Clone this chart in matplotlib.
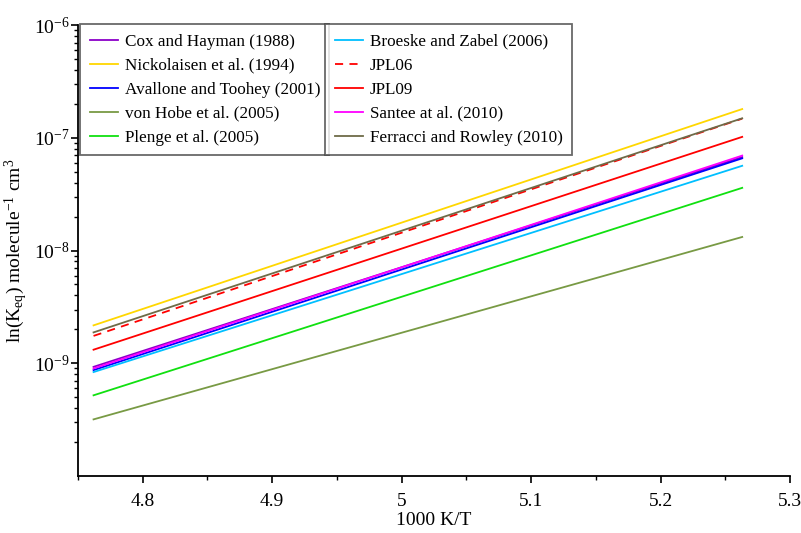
import numpy as np
import matplotlib
matplotlib.use("Agg")
import matplotlib.pyplot as plt
from matplotlib.ticker import FixedLocator, LogLocator, NullFormatter

plt.rcParams['font.family'] = ['Liberation Serif', 'DejaVu Serif']
plt.rcParams['mathtext.fontset'] = 'custom'
plt.rcParams['mathtext.rm'] = 'Liberation Serif'
plt.rcParams['mathtext.it'] = 'Liberation Serif:italic'

# 1000/T at 210 K and 190 K
x_ends = [4.762, 5.263]

# Keq at the two ends
cox_hayman = [9.3e-10, 6.75e-8]
nickolaisen = [2.17e-9, 1.80e-7]
avallone = [8.7e-10, 6.58e-8]
von_hobe = [3.18e-10, 1.32e-8]
plenge = [5.2e-10, 3.6e-8]
broeske = [8.36e-10, 5.65e-8]
jpl06 = [1.75e-9, 1.48e-7]
jpl09 = [1.32e-9, 1.02e-7]
santee = [9.0e-10, 6.96e-8]
ferracci = [1.88e-9, 1.49e-7]

labels_left = ["Cox and Hayman (1988)", "Nickolaisen et al. (1994)",
               "Avallone and Toohey (2001)", "von Hobe et al. (2005)",
               "Plenge et al. (2005)"]
labels_right = ["Broeske and Zabel (2006)", "JPL06", "JPL09",
                "Santee at al. (2010)", "Ferracci and Rowley (2010)"]

series = [cox_hayman, nickolaisen, avallone, von_hobe, plenge,
          broeske, jpl06, jpl09, santee, ferracci]
colors = ['#8B00C8', '#FFD700', '#0000FF', '#789A44', '#10E010',
          '#00BFFF', '#FF0000', '#FF0000', '#FF00FF', '#6E6B48']
styles = ['-', '-', '-', '-', '-', '-', '--', '-', '-', '-']

fig = plt.figure(figsize=(8.01, 5.33), dpi=100)
ax = fig.add_axes([0.0974, 0.1069, 0.889, 0.846])

handles = []
for y, c, ls in zip(series, colors, styles):
    ln, = ax.plot(x_ends, y, color=c, linestyle=ls, linewidth=1.3)
    if ls == '--':
        ln.set_dashes((4.5, 3.5))
    handles.append(ln)

ax.set_yscale('log')
ax.set_xlim(4.75, 5.3)
ax.set_ylim(1e-10, 1e-6)

ax.yaxis.set_major_locator(FixedLocator([1e-9, 1e-8, 1e-7, 1e-6]))
ax.set_yticklabels([r'10$^{\mathrm{-9}}$', r'10$^{\mathrm{-8}}$',
                    r'10$^{\mathrm{-7}}$', r'10$^{\mathrm{-6}}$'])
ax.yaxis.set_minor_locator(LogLocator(base=10, subs=np.arange(2, 10), numticks=20))
ax.yaxis.set_minor_formatter(NullFormatter())

ax.set_xticks([4.8, 4.9, 5.0, 5.1, 5.2, 5.3])
ax.set_xticklabels(['4.8', '4.9', '5', '5.1', '5.2', '5.3'])
ax.set_xticks(np.arange(4.75, 5.31, 0.1), minor=True)

ax.spines['top'].set_visible(False)
ax.spines['right'].set_visible(False)
ax.spines['left'].set_linewidth(1.3)
ax.spines['bottom'].set_linewidth(1.3)
ax.tick_params(axis='both', which='major', direction='out', length=5, width=1.2,
               labelsize=14)
ax.tick_params(axis='x', which='major', pad=7)
ax.tick_params(axis='y', which='major', pad=1)
ax.tick_params(axis='both', which='minor', direction='out', length=3, width=1.0)

ax.set_xlabel('1000 K/T', fontsize=14, labelpad=2)
ax.set_ylabel(r'ln(K$_{\mathrm{eq}}$) molecule$^{\mathrm{-1}}$ cm$^{\mathrm{3}}$',
              fontsize=14)
ax.yaxis.set_label_coords(-0.067, 0.5)

leg_kw = dict(loc='upper left', fontsize=12.3, frameon=True, fancybox=False,
              handlelength=1.65, handletextpad=0.4, labelspacing=0.47,
              borderpad=0.55, borderaxespad=0.0, edgecolor='#444444')
leg1 = ax.legend(handles[:5], labels_left, bbox_to_anchor=(0.003, 1.002), **leg_kw)
leg1.get_frame().set_linewidth(1.3)
ax.add_artist(leg1)
leg2 = ax.legend(handles[5:], labels_right, bbox_to_anchor=(0.347, 1.002), **leg_kw)
leg2.get_frame().set_linewidth(1.3)

fig.savefig('out.png', dpi=100)
